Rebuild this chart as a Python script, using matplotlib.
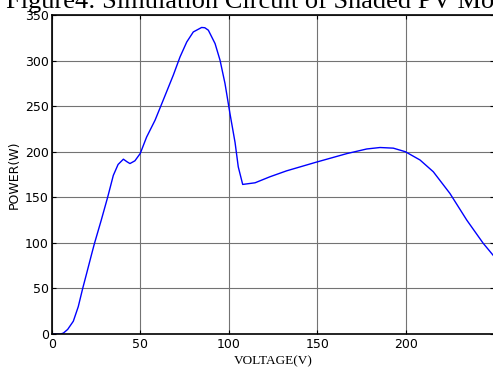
import matplotlib.pyplot as plt
import numpy as np

# P-V curve of shaded PV module
voltage = [0, 5, 6.6, 9, 12.2, 15, 17.5, 19.8, 22.6, 24.1, 28, 31.6, 34.8, 37.5, 40.5,
           42.5, 44.2, 47, 50, 53.6, 58.4, 63, 68.7, 72.5, 76.3, 80, 84.7, 86.5, 88.5,
           92.3, 95.1, 97.9, 100.7, 103.6, 105.4, 107.9, 114.9, 123.3, 132.7, 149.6,
           166.7, 178, 185.5, 193, 199.8, 208.1, 215.6, 225, 234.5, 243.8, 250]
power = [0, 0, 1, 5, 14, 30, 50, 67, 88, 99, 125, 150, 174, 186, 191.8,
         189, 187, 190, 198, 216, 234.6, 256.6, 284, 304, 320.4, 331.4, 336.3, 336, 333.3,
         318.6, 300.4, 274.9, 242, 210, 183.4, 164.1, 165.9, 172.5, 179, 188.6,
         197.9, 203, 204.6, 203.9, 200, 190.9, 178, 154.2, 125, 99.5, 85]

xticks = [0, 50, 100, 150, 200]
yticks = [0, 50, 100, 150, 200, 250, 300, 350]

fig = plt.figure(figsize=(4.93, 3.70), dpi=100)
ax = fig.add_axes([0.1049, 0.0973, 0.8975, 0.8622])

ax.plot(voltage, power, color='#0000ff', lw=1.0)

ax.set_xlim(0, 250)
ax.set_ylim(0, 350)
ax.set_xticks(xticks)
ax.set_yticks(yticks)
ax.tick_params(direction='in', length=3, width=0.8, top=True, right=True,
               labelsize=9, pad=2, colors='black')
ax.tick_params(axis='x', pad=3)
ax.grid(True, color='0.45', lw=0.8)
for s in ax.spines.values():
    s.set_linewidth(1.2)

ax.set_xlabel('VOLTAGE(V)', family='Liberation Serif', fontsize=9.5, labelpad=3)
ax.set_ylabel('POWER(W)', fontsize=9, labelpad=3)

fig.text(0.012, 1 - 8 / 370, 'Figure4: Simulation Circuit of Shaded PV Module',
         family='Liberation Serif', fontsize=19, va='baseline', ha='left')

fig.savefig('out.png', dpi=100)
